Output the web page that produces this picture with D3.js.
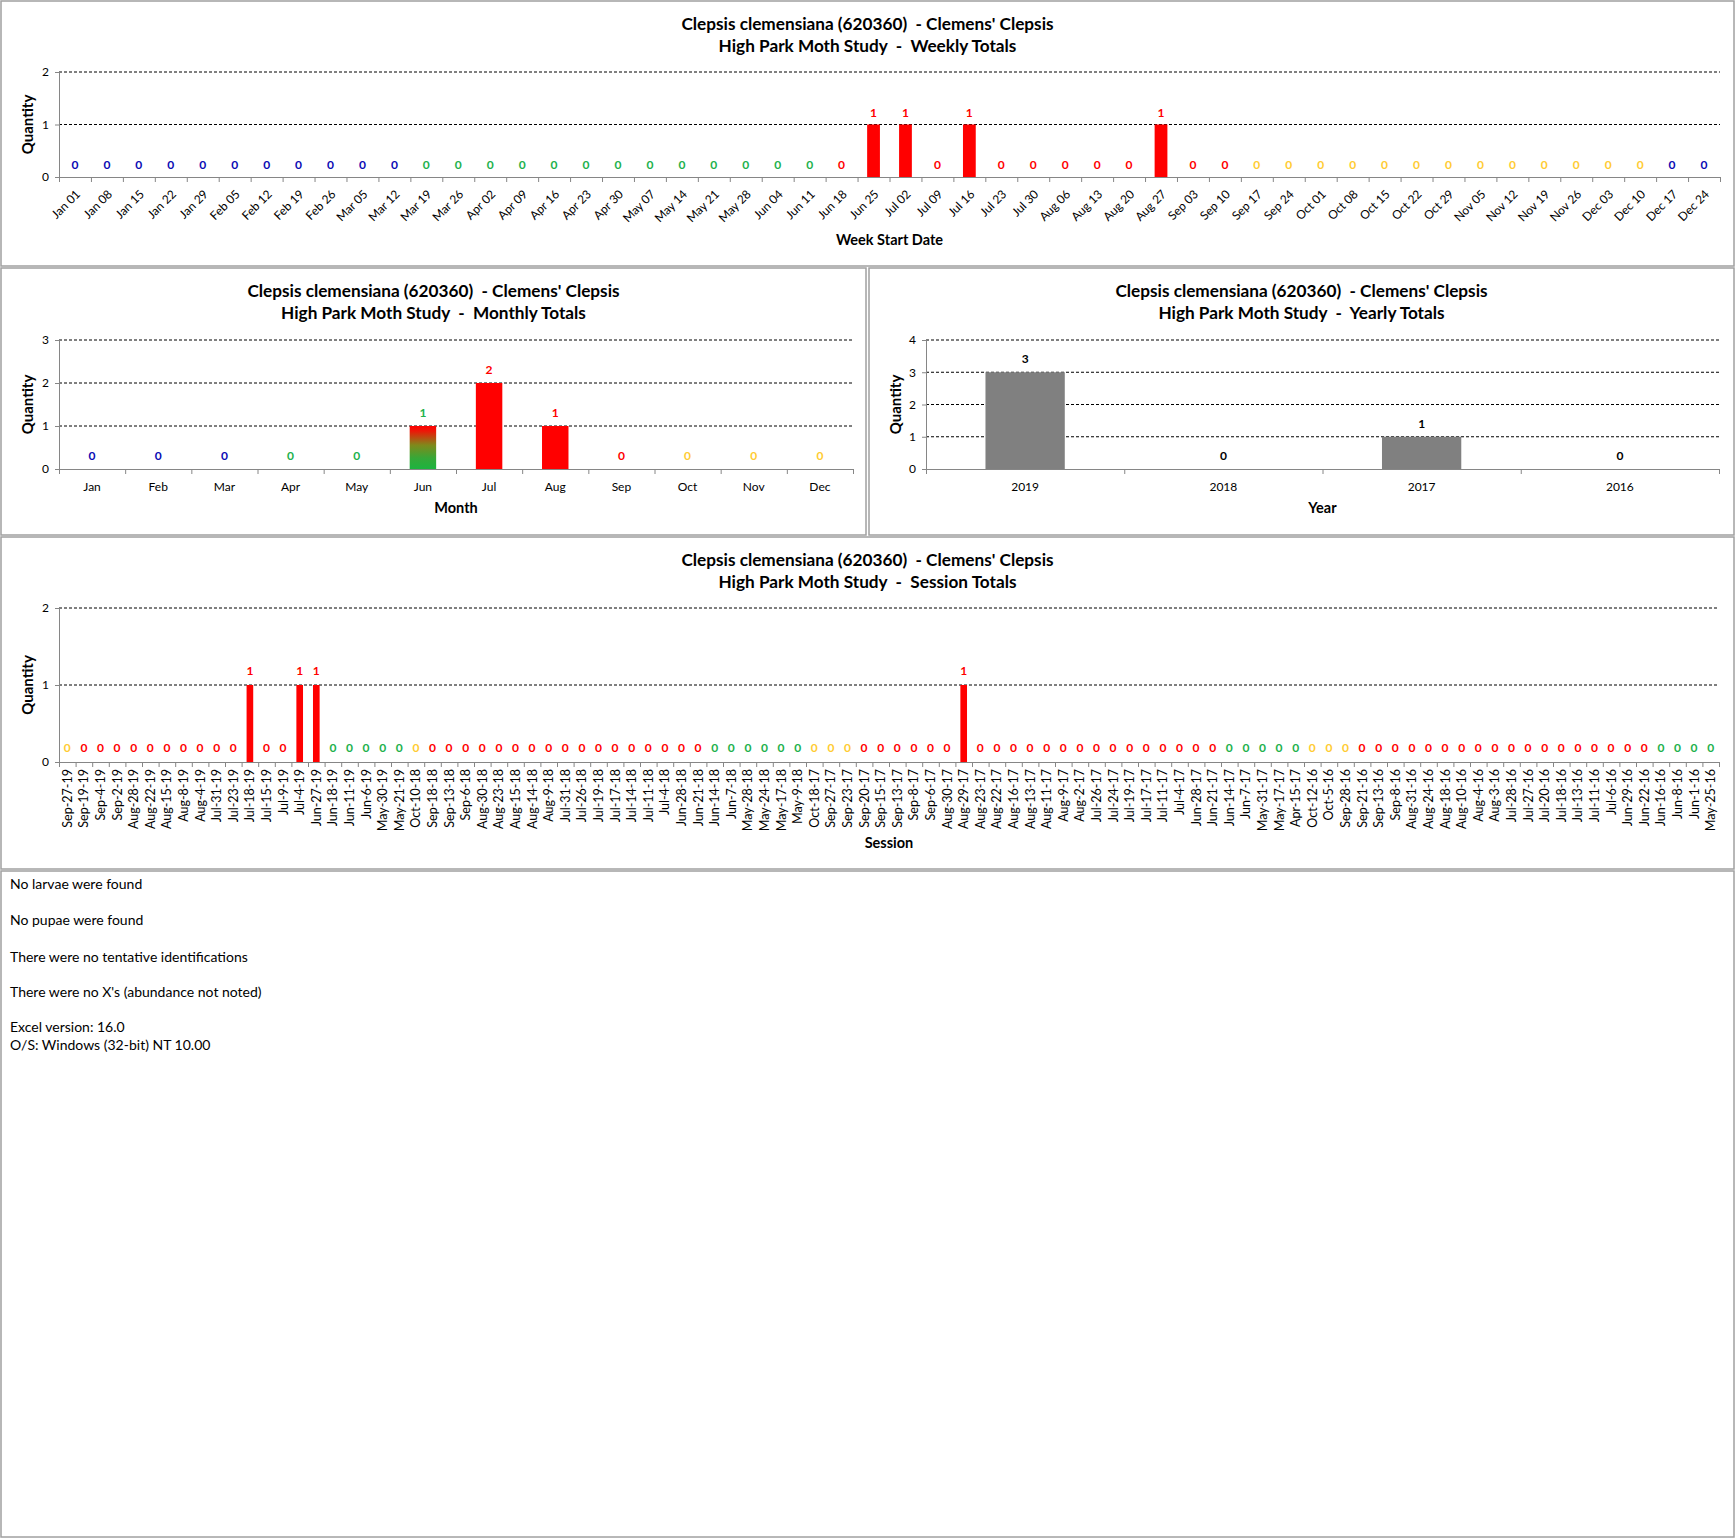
<!DOCTYPE html>
<html>
<head>
<meta charset="utf-8">
<script src="https://cdn.jsdelivr.net/npm/d3@7"></script>
<style>
  body { margin: 0; background: #fff; }
  svg { display: block; font-family: Lato, "Open Sans", sans-serif; }
  text { white-space: pre; }
</style>
</head>
<body>
<div id="wrapper"></div>
<script>
// ---- data ----
const titleLine1 = "Clepsis clemensiana (620360)  - Clemens' Clepsis";

const weekLabels = [
  'Jan 01', 'Jan 08', 'Jan 15', 'Jan 22', 'Jan 29', 'Feb 05', 'Feb 12', 'Feb 19', 'Feb 26',
  'Mar 05', 'Mar 12', 'Mar 19', 'Mar 26', 'Apr 02', 'Apr 09', 'Apr 16', 'Apr 23', 'Apr 30',
  'May 07', 'May 14', 'May 21', 'May 28', 'Jun 04', 'Jun 11', 'Jun 18', 'Jun 25', 'Jul 02',
  'Jul 09', 'Jul 16', 'Jul 23', 'Jul 30', 'Aug 06', 'Aug 13', 'Aug 20', 'Aug 27', 'Sep 03',
  'Sep 10', 'Sep 17', 'Sep 24', 'Oct 01', 'Oct 08', 'Oct 15', 'Oct 22', 'Oct 29', 'Nov 05',
  'Nov 12', 'Nov 19', 'Nov 26', 'Dec 03', 'Dec 10', 'Dec 17', 'Dec 24'
];
const weekValues = [
  0, 0, 0, 0, 0, 0, 0, 0, 0, 0,
  0, 0, 0, 0, 0, 0, 0, 0, 0, 0,
  0, 0, 0, 0, 0, 1, 1, 0, 1, 0,
  0, 0, 0, 0, 1, 0, 0, 0, 0, 0,
  0, 0, 0, 0, 0, 0, 0, 0, 0, 0,
  0, 0
];
// season code per week (B winter, G spring, R summer, Y autumn)
const weekSeason = ('BBBBBBBBBBB' + 'GGGGGGGGGGGGG' + 'RRRRRRRRRRRRR' + 'YYYYYYYYYYYYY' + 'BB').split('');

const monthLabels = ['Jan', 'Feb', 'Mar', 'Apr', 'May', 'Jun', 'Jul', 'Aug', 'Sep', 'Oct', 'Nov', 'Dec'];
const monthValues = [0, 0, 0, 0, 0, 1, 2, 1, 0, 0, 0, 0];
const monthSeason = ['B', 'B', 'B', 'G', 'G', 'G', 'R', 'R', 'R', 'Y', 'Y', 'Y'];

const yearLabels = ['2019', '2018', '2017', '2016'];
const yearValues = [3, 0, 1, 0];

const sessionLabels = [
  'Sep-27-19', 'Sep-19-19', 'Sep-4-19', 'Sep-2-19', 'Aug-28-19', 'Aug-22-19', 'Aug-15-19', 'Aug-8-19', 'Aug-4-19', 'Jul-31-19',
  'Jul-23-19', 'Jul-18-19', 'Jul-15-19', 'Jul-9-19', 'Jul-4-19', 'Jun-27-19', 'Jun-18-19', 'Jun-11-19', 'Jun-6-19', 'May-30-19',
  'May-21-19', 'Oct-10-18', 'Sep-18-18', 'Sep-13-18', 'Sep-6-18', 'Aug-30-18', 'Aug-23-18', 'Aug-15-18', 'Aug-14-18', 'Aug-9-18',
  'Jul-31-18', 'Jul-26-18', 'Jul-19-18', 'Jul-17-18', 'Jul-14-18', 'Jul-11-18', 'Jul-4-18', 'Jun-28-18', 'Jun-21-18', 'Jun-14-18',
  'Jun-7-18', 'May-28-18', 'May-24-18', 'May-17-18', 'May-9-18', 'Oct-18-17', 'Sep-27-17', 'Sep-23-17', 'Sep-20-17', 'Sep-15-17',
  'Sep-13-17', 'Sep-8-17', 'Sep-6-17', 'Aug-30-17', 'Aug-29-17', 'Aug-23-17', 'Aug-22-17', 'Aug-16-17', 'Aug-13-17', 'Aug-11-17',
  'Aug-9-17', 'Aug-2-17', 'Jul-26-17', 'Jul-24-17', 'Jul-19-17', 'Jul-17-17', 'Jul-11-17', 'Jul-4-17', 'Jun-28-17', 'Jun-21-17',
  'Jun-14-17', 'Jun-7-17', 'May-31-17', 'May-17-17', 'Apr-15-17', 'Oct-12-16', 'Oct-5-16', 'Sep-28-16', 'Sep-21-16', 'Sep-13-16',
  'Sep-8-16', 'Aug-31-16', 'Aug-24-16', 'Aug-18-16', 'Aug-10-16', 'Aug-4-16', 'Aug-3-16', 'Jul-28-16', 'Jul-27-16', 'Jul-20-16',
  'Jul-18-16', 'Jul-13-16', 'Jul-11-16', 'Jul-6-16', 'Jun-29-16', 'Jun-22-16', 'Jun-16-16', 'Jun-8-16', 'Jun-1-16', 'May-25-16'
];
const sessionValues = [
  0, 0, 0, 0, 0, 0, 0, 0, 0, 0,
  0, 1, 0, 0, 1, 1, 0, 0, 0, 0,
  0, 0, 0, 0, 0, 0, 0, 0, 0, 0,
  0, 0, 0, 0, 0, 0, 0, 0, 0, 0,
  0, 0, 0, 0, 0, 0, 0, 0, 0, 0,
  0, 0, 0, 0, 1, 0, 0, 0, 0, 0,
  0, 0, 0, 0, 0, 0, 0, 0, 0, 0,
  0, 0, 0, 0, 0, 0, 0, 0, 0, 0,
  0, 0, 0, 0, 0, 0, 0, 0, 0, 0,
  0, 0, 0, 0, 0, 0, 0, 0, 0, 0
];
const sessionSeason = (
  'YRRRRRRRRR' + 'RRRRRRGGGG' + 'GYRRRRRRRR' + 'RRRRRRRRRG' + 'GGGGGYYYRR' +
  'RRRRRRRRRR' + 'RRRRRRRRRR' + 'GGGGGYYYRR' + 'RRRRRRRRRR' + 'RRRRRRGGGG'
).split('');

const notes = [
  'No larvae were found',
  'No pupae were found',
  'There were no tentative identifications',
  "There were no X's (abundance not noted)",
  'Excel version: 16.0',
  'O/S: Windows (32-bit) NT 10.00'
];

// ---- styling ----
const seasonColor = { B: '#0a0ab4', G: '#22b14c', R: '#ff0000', Y: '#ffcc33' };
const axisGrey = '#868686';
const W = 1736, H = 1538;

const svg = d3.select('#wrapper')
  .append('svg')
  .attr('width', W)
  .attr('height', H);

svg.append('rect').attr('width', W).attr('height', H).attr('fill', '#fff');

const defs = svg.append('defs');
const grad = defs.append('linearGradient')
  .attr('id', 'junGrad')
  .attr('x1', 0).attr('y1', 0).attr('x2', 0).attr('y2', 1);
[[0, '#ff0000'], [0.12, '#ec1808'], [0.45, '#7e8a1c'], [0.75, '#36a838'], [1, '#1cb43f']]
  .forEach(s => grad.append('stop').attr('offset', s[0]).attr('stop-color', s[1]));

function panel(x, y, w, h) {
  svg.append('rect')
    .attr('x', x).attr('y', y)
    .attr('width', w).attr('height', h)
    .attr('fill', '#fff')
    .attr('stroke', '#a0a0a0')
    .attr('stroke-width', 1.5);
}

function barChart(cfg) {
  const [px, py, pw, ph] = cfg.box;
  panel(px, py, pw, ph);
  const g = svg.append('g');
  const n = cfg.labels.length;

  // titles
  const cx = px + pw / 2;
  g.append('text')
    .attr('x', cx).attr('y', py + 23).attr('dy', '0.35em')
    .attr('text-anchor', 'middle')
    .attr('font-size', 17.2).attr('font-weight', 'bold')
    .text(titleLine1);
  g.append('text')
    .attr('x', cx).attr('y', py + 45).attr('dy', '0.35em')
    .attr('text-anchor', 'middle')
    .attr('font-size', 17.2).attr('font-weight', 'bold')
    .text(cfg.subtitle);

  const x = d3.scaleBand()
    .domain(d3.range(n))
    .range([cfg.left, cfg.right])
    .paddingInner(0.6)
    .paddingOuter(0.3);
  const xEdge = d3.scaleLinear().domain([0, n]).range([cfg.left, cfg.right]);
  const y = d3.scaleLinear().domain([0, cfg.ymax]).range([cfg.bottom, cfg.top]);

  // dashed gridlines
  g.selectAll('line.grid')
    .data(y.ticks(cfg.ymax).filter(t => t > 0))
    .join('line')
    .attr('class', 'grid')
    .attr('x1', cfg.left).attr('x2', cfg.right)
    .attr('y1', d => y(d)).attr('y2', d => y(d))
    .attr('stroke', '#000')
    .attr('stroke-width', 1)
    .attr('stroke-dasharray', '3,2');

  // bars
  g.selectAll('rect.bar')
    .data(cfg.values.map((v, i) => ({ v, i })).filter(d => d.v > 0))
    .join('rect')
    .attr('class', 'bar')
    .attr('x', d => x(d.i))
    .attr('width', x.bandwidth())
    .attr('y', d => y(d.v))
    .attr('height', d => y(0) - y(d.v))
    .attr('fill', d => cfg.barFill(d.i));

  // y axis
  const yAxis = g.append('g')
    .attr('transform', `translate(${cfg.left},0)`)
    .call(d3.axisLeft(y).ticks(cfg.ymax).tickSize(4).tickPadding(6).tickFormat(d3.format('d')));
  yAxis.select('.domain').attr('stroke', axisGrey);
  yAxis.selectAll('.tick line').attr('stroke', axisGrey);
  yAxis.selectAll('text').attr('font-size', 12).attr('fill', '#000')
    .attr('font-family', 'Lato, "Open Sans", sans-serif');

  // x axis line + category separators
  const xAxis = g.append('g')
    .attr('transform', `translate(0,${cfg.bottom})`)
    .call(d3.axisBottom(xEdge).tickValues(d3.range(n + 1)).tickSize(5).tickSizeOuter(0).tickFormat(''));
  xAxis.select('.domain').attr('stroke', axisGrey);
  xAxis.selectAll('.tick line').attr('stroke', axisGrey);

  // category labels
  const mid = i => x(i) + x.bandwidth() / 2;
  const lab = g.selectAll('text.xlab')
    .data(cfg.labels)
    .join('text')
    .attr('class', 'xlab')
    .attr('font-size', cfg.labelSize)
    .attr('fill', '#000')
    .text(d => d);
  if (cfg.rotate === -45) {
    lab.attr('text-anchor', 'end')
      .attr('transform', (d, i) => `translate(${mid(i) + 6},${cfg.bottom + 18}) rotate(-45)`);
  } else if (cfg.rotate === -90) {
    lab.attr('text-anchor', 'end')
      .attr('transform', (d, i) => `translate(${mid(i) + 4.5},${cfg.bottom + 7}) rotate(-90)`);
  } else {
    lab.attr('text-anchor', 'middle')
      .attr('x', (d, i) => mid(i))
      .attr('y', cfg.bottom + 18)
      .attr('dy', '0.35em');
  }

  // value labels
  g.selectAll('text.val')
    .data(cfg.values)
    .join('text')
    .attr('class', 'val')
    .attr('x', (d, i) => mid(i))
    .attr('y', d => y(d) - cfg.valOffset)
    .attr('dy', '0.35em')
    .attr('text-anchor', 'middle')
    .attr('font-size', 12)
    .attr('font-weight', 'bold')
    .attr('fill', (d, i) => cfg.valColor(i))
    .text(d => d);

  // axis titles
  g.append('text')
    .attr('transform', `translate(${cfg.qx},${(cfg.top + cfg.bottom) / 2}) rotate(-90)`)
    .attr('text-anchor', 'middle')
    .attr('dy', '0.35em')
    .attr('font-size', 15)
    .attr('font-weight', 'bold')
    .text('Quantity');
  g.append('text')
    .attr('x', (cfg.left + cfg.right) / 2)
    .attr('y', cfg.xTitleY)
    .attr('dy', '0.35em')
    .attr('text-anchor', 'middle')
    .attr('font-size', 14.5)
    .attr('font-weight', 'bold')
    .text(cfg.xTitle);
}

// weekly
barChart({
  box: [1, 1, 1733, 265],
  subtitle: 'High Park Moth Study  -  Weekly Totals',
  labels: weekLabels, values: weekValues, ymax: 2,
  left: 59, right: 1720, top: 72, bottom: 177,
  rotate: -45, labelSize: 12,
  valOffset: 12,
  barFill: i => seasonColor[weekSeason[i]],
  valColor: i => seasonColor[weekSeason[i]],
  qx: 28, xTitle: 'Week Start Date', xTitleY: 240
});

// monthly
barChart({
  box: [1, 268, 865, 267],
  subtitle: 'High Park Moth Study  -  Monthly Totals',
  labels: monthLabels, values: monthValues, ymax: 3,
  left: 59, right: 853, top: 340, bottom: 469,
  rotate: 0, labelSize: 12,
  valOffset: 13,
  barFill: i => monthSeason[i] === 'G' ? 'url(#junGrad)' : seasonColor[monthSeason[i]],
  valColor: i => seasonColor[monthSeason[i]],
  qx: 28, xTitle: 'Month', xTitleY: 508
});

// yearly
barChart({
  box: [869, 268, 865, 267],
  subtitle: 'High Park Moth Study  -  Yearly Totals',
  labels: yearLabels, values: yearValues, ymax: 4,
  left: 926, right: 1719, top: 340, bottom: 469,
  rotate: 0, labelSize: 12,
  valOffset: 13,
  barFill: () => '#808080',
  valColor: () => '#000',
  qx: 896, xTitle: 'Year', xTitleY: 508
});

// sessions
barChart({
  box: [1, 537, 1733, 332],
  subtitle: 'High Park Moth Study  -  Session Totals',
  labels: sessionLabels, values: sessionValues, ymax: 2,
  left: 59, right: 1719, top: 608, bottom: 762,
  rotate: -90, labelSize: 12.5,
  valOffset: 14,
  barFill: i => seasonColor[sessionSeason[i]],
  valColor: i => seasonColor[sessionSeason[i]],
  qx: 28, xTitle: 'Session', xTitleY: 843
});

// notes panel
panel(1, 871, 1733, 666);
svg.append('g')
  .selectAll('text')
  .data(notes)
  .join('text')
  .attr('x', 10)
  .attr('y', (d, i) => [884, 920, 957, 992, 1027, 1045][i])
  .attr('dy', '0.35em')
  .attr('font-size', 14)
  .attr('fill', '#000')
  .text(d => d);
</script>
</body>
</html>
